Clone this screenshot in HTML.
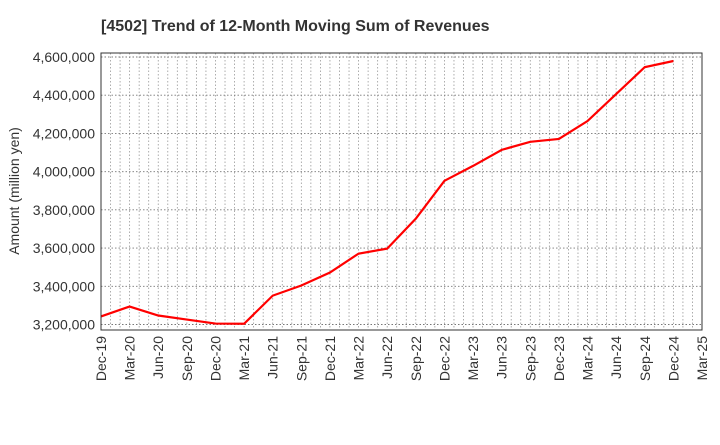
<!DOCTYPE html>
<html><head><meta charset="utf-8"><style>
body{margin:0;background:#fff;font-family:"Liberation Sans",Arial,sans-serif;}
</style></head><body>
<svg width="720" height="440" xmlns="http://www.w3.org/2000/svg">
<text x="101" y="31" text-anchor="start" font-size="16" font-weight="bold" fill="#333">[4502]  Trend of 12-Month Moving Sum of Revenues</text>
<text transform="translate(19,191) rotate(-90)" text-anchor="middle" font-size="14" fill="#333">Amount (million yen)</text>
<g id="grid"></g><g id="axes"></g>
<polyline id="line" fill="none" stroke="#ff0000" stroke-width="2.2"/>
<rect x="101" y="53" width="601" height="277" fill="none" stroke="#333" stroke-width="1"/>
</svg>
<script>
const categories=["Dec-19","Mar-20","Jun-20","Sep-20","Dec-20","Mar-21","Jun-21","Sep-21","Dec-21","Mar-22","Jun-22","Sep-22","Dec-22","Mar-23","Jun-23","Sep-23","Dec-23","Mar-24","Jun-24","Sep-24","Dec-24","Mar-25"];
const values=[3242000,3294000,3247000,3226000,3205000,3204000,3351000,3404000,3472000,3571000,3597000,3754000,3952000,4030000,4114000,4156000,4171000,4265000,4406000,4547000,4579000];
const yTicks=[3200000,3400000,3600000,3800000,4000000,4200000,4400000,4600000];
const NS="http://www.w3.org/2000/svg";
const L=101,R=702,T=53,B=330,yMin=3171200,yMax=4620900;
const x=i=>L+(R-L)*i/(categories.length-1);
const y=v=>B-(v-yMin)/(yMax-yMin)*(B-T);
const grid=document.getElementById('grid'),axes=document.getElementById('axes');
for(let m=1;m<(categories.length-1)*3;m++){
  const xx=L+(R-L)*m/((categories.length-1)*3);
  const ln=document.createElementNS(NS,'line');
  
  
  ln.setAttribute('x1',xx);ln.setAttribute('x2',xx);ln.setAttribute('y1',T);ln.setAttribute('y2',B);
  ln.setAttribute('stroke','#999');ln.setAttribute('stroke-dasharray','1.5,2');ln.setAttribute('stroke-width','0.8');
  grid.appendChild(ln);
}
yTicks.forEach(v=>{
  const yy=y(v);
  const ln=document.createElementNS(NS,'line');
  
  
  ln.setAttribute('x1',L);ln.setAttribute('x2',R);ln.setAttribute('y1',yy);ln.setAttribute('y2',yy);
  ln.setAttribute('stroke','#777');ln.setAttribute('stroke-dasharray','1.5,2');ln.setAttribute('stroke-width','0.9');
  grid.appendChild(ln);
  const t=document.createElementNS(NS,'text');
  
  
  t.setAttribute('x',L-6);t.setAttribute('y',yy+5);t.setAttribute('text-anchor','end');
  t.setAttribute('font-size','14');t.setAttribute('fill','#333');
  t.textContent=v.toLocaleString('en-US');
  axes.appendChild(t);
});
categories.forEach((c,i)=>{
  const t=document.createElementNS(NS,'text');
  
  
  t.setAttribute('transform',`translate(${x(i)+5},336) rotate(-90)`);
  t.setAttribute('text-anchor','end');t.setAttribute('font-size','14');t.setAttribute('fill','#333');
  t.textContent=c;
  axes.appendChild(t);
});
document.getElementById('line').setAttribute('points',values.map((v,i)=>x(i)+','+y(v)).join(' '));
</script>
</body></html>
